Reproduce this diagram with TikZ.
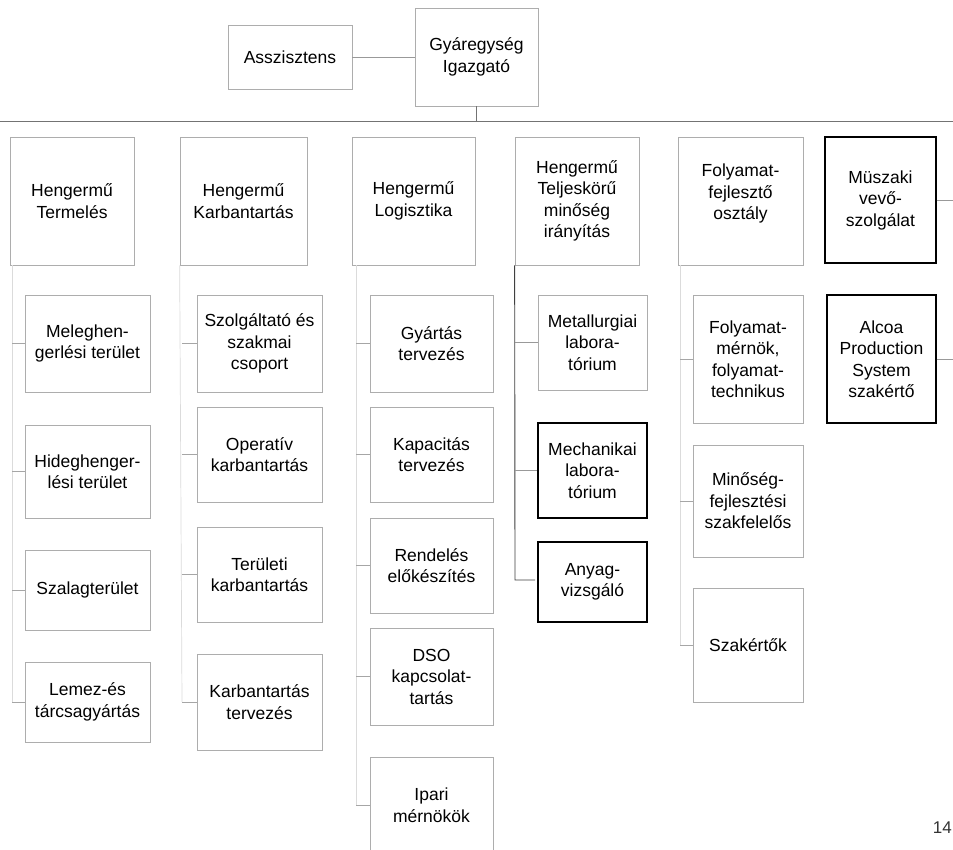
\documentclass[tikz,border=0pt]{standalone}
\usepackage{fontspec}
\setmainfont{Liberation Sans}
\begin{document}
\begin{tikzpicture}[x=1pt,y=-1pt,
  box/.style={draw=black!32, line width=0.7pt, align=center, inner sep=1pt,
    font=\fontsize{17.5}{21.5}\selectfont, text=black},
  darkbox/.style={box, draw=black, line width=1.1pt},
  conn/.style={draw=black!40, line width=0.7pt},
  spine/.style={draw=black!14, line width=0.7pt},
  tick/.style={draw=black!35, line width=0.7pt},
  busline/.style={draw=black!55, line width=0.8pt}]
\useasboundingbox (0,0) rectangle (953,849);
\fill[white] (0,0) rectangle (953,849);

% top level
\node[box, minimum width=124pt, minimum height=64pt] (assz) at (290,57) {Asszisztens};
\node[box, minimum width=123pt, minimum height=98pt] (igaz) at (476.5,57) {Gyáregység\\Igazgató};

% row 1
\node[box, minimum width=124pt, minimum height=128pt] (t1) at (72,201) {Hengermű\\Termelés};
\node[box, minimum width=127pt, minimum height=128pt] (t2) at (243.5,201) {Hengermű\\Karbantartás};
\node[box, minimum width=123pt, minimum height=128pt] (t3) at (413.5,201) {Hengermű\\Logisztika};
\node[box, minimum width=124pt, minimum height=128pt] (t4) at (577,201) {Hengermű\\Teljeskörű\\minőség\\irányítás};
\node[box, minimum width=125pt, minimum height=128pt, text depth=18pt] (t5) at (740.5,201) {Folyamat-\\fejlesztő\\osztály};
\node[darkbox, minimum width=111pt, minimum height=126pt] (t6) at (880.5,200) {Müszaki\\vevő-\\szolgálat};

% column 1
\node[box, minimum width=125pt, minimum height=97pt] (a1) at (87.5,343.5) {Meleghen-\\gerlési terület};
\node[box, minimum width=125pt, minimum height=93pt] (a2) at (87.5,471.5) {Hideghenger-\\lési terület};
\node[box, minimum width=125pt, minimum height=80pt] (a3) at (87.5,590) {Szalagterület};
\node[box, minimum width=125pt, minimum height=80pt] (a4) at (87.5,702) {Lemez-és\\tárcsagyártás};

% column 2
\node[box, minimum width=125pt, minimum height=97pt] (b1) at (259.5,343.5) {Szolgáltató és\\szakmai\\csoport};
\node[box, minimum width=125pt, minimum height=95pt] (b2) at (259.5,454.5) {Operatív\\karbantartás};
\node[box, minimum width=125pt, minimum height=95pt] (b3) at (259.5,574.5) {Területi\\karbantartás};
\node[box, minimum width=125pt, minimum height=96pt] (b4) at (259.5,702) {Karbantartás\\tervezés};

% column 3
\node[box, minimum width=123pt, minimum height=97pt] (c1) at (431.5,343.5) {Gyártás\\tervezés};
\node[box, minimum width=123pt, minimum height=95pt] (c2) at (431.5,454.5) {Kapacitás\\tervezés};
\node[box, minimum width=123pt, minimum height=95pt] (c3) at (431.5,565.5) {Rendelés\\előkészítés};
\node[box, minimum width=123pt, minimum height=97pt] (c4) at (431.5,676.5) {DSO\\kapcsolat-\\tartás};
\node[box, minimum width=123pt, minimum height=96pt] (c5) at (431.5,805) {Ipari\\mérnökök};

% column 4
\node[box, minimum width=109pt, minimum height=95pt] (d1) at (592.5,342.5) {Metallurgiai\\labora-\\tórium};
\node[darkbox, minimum width=109pt, minimum height=95pt] (d2) at (592.5,470.5) {Mechanikai\\labora-\\tórium};
\node[darkbox, minimum width=109pt, minimum height=80pt] (d3) at (592.5,582) {Anyag-\\vizsgáló};

% column 5
\node[box, minimum width=110pt, minimum height=128pt] (e1) at (748,359) {Folyamat-\\mérnök,\\folyamat-\\technikus};
\node[box, minimum width=110pt, minimum height=112pt] (e2) at (748,501) {Minőség-\\fejlesztési\\szakfelelős};
\node[box, minimum width=110pt, minimum height=114pt] (e3) at (748,645) {Szakértők};

% column 6
\node[darkbox, minimum width=109pt, minimum height=128pt] (f1) at (881.5,359) {Alcoa\\Production\\System\\szakértő};

% page number
\node[font=\fontsize{17}{20}\selectfont, anchor=east, inner sep=0pt, text=black!80] (pg) at (952,828) {14};

% connectors
\coordinate (busL) at (0,121);
\coordinate (busR) at (953,121);
\coordinate (busJ) at (476.5,121);
\draw[busline] (busL) -- (busR);
\draw[busline] (igaz.south) -- (busJ);
\draw[conn] (assz.east) -- (igaz.west);

\coordinate (r6a) at (953,200);
\coordinate (r6b) at (953,359);
\draw[conn] (t6.east) -- (r6a);
\draw[conn] (f1.east) -- (r6b);

% column 1 spine
\coordinate (s1top) at (12,265);
\coordinate (s1bot) at (12,702);
\draw[spine] (s1top) -- (s1bot);
\foreach \n in {a1,a2,a3,a4} \draw[tick] (s1top |- \n.west) -- (\n.west);

% column 2 spine
\coordinate (s2top) at (t2.south west);
\coordinate (s2bot) at (182,702);
\draw[spine] (s2top) -- (s2bot);
\foreach \n in {b1,b2,b3,b4} \draw[tick] (s2bot |- \n.west) -- (\n.west);

% column 3 spine
\coordinate (s3top) at (356,265);
\coordinate (s3bot) at (356,805);
\draw[spine] (s3top) -- (s3bot);
\foreach \n in {c1,c2,c3,c4,c5} \draw[tick] (s3bot |- \n.west) -- (\n.west);

% column 4 spine
\coordinate (s4top) at (t4.south west);
\coordinate (s4bot) at (515,580);
\coordinate (s4end) at (535,580);
\draw[line width=0.9pt, black!75] (s4top) -- (s4bot) -- (s4end);
\foreach \n in {d1,d2} \draw[conn] (s4bot |- \n.west) -- (\n.west);

% column 5 spine
\coordinate (s5top) at (680,265);
\coordinate (s5bot) at (680,645);
\draw[spine] (s5top) -- (s5bot);
\foreach \n in {e1,e2,e3} \draw[tick] (s5bot |- \n.west) -- (\n.west);
\end{tikzpicture}
\end{document}
